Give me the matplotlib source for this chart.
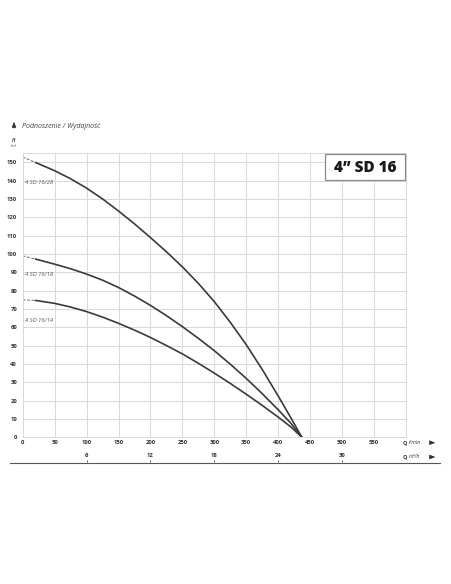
import matplotlib
matplotlib.use("Agg")
import matplotlib.pyplot as plt
from matplotlib.patches import Rectangle
from matplotlib.lines import Line2D

# ---- data ----
flow_lmin = [0, 20, 50, 75, 100, 125, 150, 175, 200, 225, 250, 275, 300, 325, 350, 375, 400, 420, 437]
head_16_28 = [153, 150, 145.5, 141.1, 136.0, 130.1, 123.5, 116.5, 109.0, 101.25, 93.0, 84.0, 74.0, 62.75, 50.5, 37.0, 22.5, 10.5, 0]
head_16_18 = [99, 97.3, 94.5, 92.0, 89.1, 85.75, 81.75, 77.1, 72.0, 66.4, 60.4, 54.0, 47.25, 39.9, 32.1, 23.8, 15.0, 7.6, 0]
head_16_14 = [75, 74.7, 73.1, 71.1, 68.6, 65.6, 62.2, 58.5, 54.5, 50.1, 45.5, 40.4, 35, 29.4, 23.5, 17.4, 11, 5.6, 0]
series_names = ["4 SD 16/28", "4 SD 16/18", "4 SD 16/14"]
label_heads = [139, 89, 64]

x_ticks = [0, 50, 100, 150, 200, 250, 300, 350, 400, 450, 500, 550]
y_ticks = list(range(0, 151, 10))
m3h_ticks = [6, 12, 18, 24, 30]

title = "4\u201d SD 16"
ylabel_top = "Podnoszenie / Wydajność"

W, H = 452, 584
def fx(x): return x / W
def fy(y): return 1 - y / H

plt.rcParams['font.family'] = ['Open Sans', 'DejaVu Sans']

fig = plt.figure(figsize=(4.52, 5.84), dpi=100)
fig.patch.set_facecolor('white')

left, right, top, bottom = 22.7, 406, 153.3, 437.3
ax = fig.add_axes([fx(left), fy(bottom), (right - left) / W, (bottom - top) / H])
ax.set_xlim(0, 600)
ax.set_ylim(0, 155)

gridc = '#d8d8d8'
ax.set_xticks(list(range(0, 601, 50)))
ax.set_yticks(y_ticks)
ax.grid(True, color=gridc, lw=0.7)
for s in ax.spines.values():
    s.set_color(gridc)
    s.set_linewidth(0.7)
ax.set_axisbelow(True)

ax.set_xticklabels([str(v) if v in x_ticks else '' for v in range(0, 601, 50)])
ax.tick_params(axis='both', length=0, labelsize=4.2, labelcolor='#333333')
ax.tick_params(axis='x', pad=2.2)
ax.tick_params(axis='y', pad=4.0)
for lab in ax.get_xticklabels() + ax.get_yticklabels():
    lab.set_fontweight('bold')

curve_c = '#3a3a3a'
for heads, name, lh in zip([head_16_28, head_16_18, head_16_14], series_names, label_heads):
    ax.plot(flow_lmin[:2], heads[:2], color='#777777', lw=0.8, ls=(0, (2.5, 1.5)))
    ax.plot(flow_lmin[1:], heads[1:], color=curve_c, lw=1.2, solid_capstyle='round',
            solid_joinstyle='round')
    ax.text(4, lh, name, fontsize=4.2, style='italic', color='#555555', va='center', ha='left')

# secondary flow axis (m3/h)
sec = ax.secondary_xaxis(-(462.5 - bottom) / (bottom - top),
                         functions=(lambda q: q * 0.06, lambda m: m / 0.06))
sec.set_alignment('top')
sec.set_xticks(m3h_ticks)
sec.set_xticklabels([str(v) for v in m3h_ticks])
sec.tick_params(axis='x', direction='out', length=1.8, width=0.7, color='#555555',
                labelsize=4.2, labelcolor='#333333', pad=1.2)
for lab in sec.get_xticklabels():
    lab.set_fontweight('bold')
for s in sec.spines.values():
    s.set_visible(False)

fig.add_artist(Line2D([fx(10), fx(440)], [fy(462.5), fy(462.5)], color='#555555', lw=0.8))

arrow_style = dict(arrowstyle='-|>,head_length=0.32,head_width=0.13', color='#333333', lw=0.6)

# axis unit labels with arrows
for yy, unit in [(442.7, 'l/min'), (457.0, 'm\u00b3/h')]:
    fig.text(fx(403), fy(yy), 'Q', fontsize=4, fontweight='bold', color='#333333', va='center', ha='left')
    fig.text(fx(408.5), fy(yy), unit, fontsize=3.8, style='italic', color='#333333', va='center', ha='left')
    ax.annotate('', xy=(fx(438), fy(yy)), xytext=(fx(430), fy(yy)), xycoords='figure fraction',
                textcoords='figure fraction', arrowprops=arrow_style)

# top-left y label
ax.annotate('', xy=(fx(14), fy(119)), xytext=(fx(14), fy(131)), xycoords='figure fraction',
            textcoords='figure fraction', arrowprops=arrow_style)
fig.text(fx(22.5), fy(127), ylabel_top, fontsize=5, style='italic', color='#444444', va='center', ha='left')
fig.text(fx(14), fy(140), 'H', fontsize=3.4, style='italic', fontweight='bold', color='#444444', va='center', ha='center')
fig.text(fx(14), fy(146), '(m)', fontsize=3, style='italic', color='#444444', va='center', ha='center')

# title box
fig.add_artist(Rectangle((fx(325), fy(180)), (405 - 325) / W, (180 - 154) / H,
                         transform=fig.transFigure, facecolor='white', edgecolor='#888888', lw=0.9, zorder=5))
fig.text(fx(365), fy(167.5), title, fontsize=11, fontweight='heavy', color='#1a1a1a',
         va='center', ha='center', zorder=6)

fig.savefig('out.png', dpi=100, facecolor='white')
